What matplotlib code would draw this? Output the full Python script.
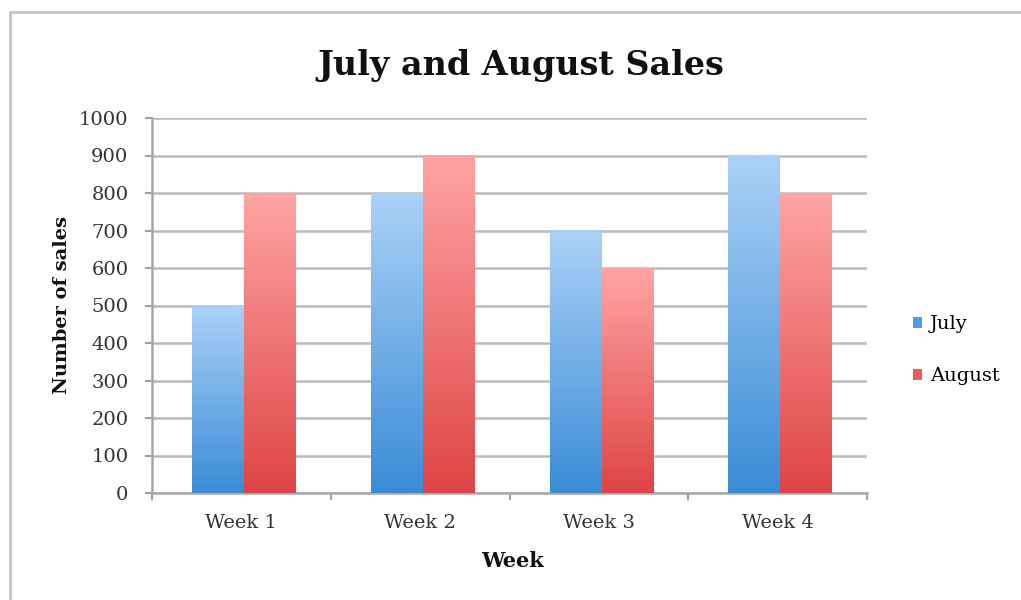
import numpy as np
import matplotlib
matplotlib.use("Agg")
import matplotlib.pyplot as plt
from matplotlib.colors import LinearSegmentedColormap
from matplotlib.patches import Rectangle, Patch

categories = ["Week 1", "Week 2", "Week 3", "Week 4"]
july = [500, 800, 700, 900]
august = [800, 900, 600, 800]
series_names = ["July", "August"]
yticks = list(range(0, 1001, 100))

plt.rcParams['font.family'] = ['DejaVu Serif']

fig = plt.figure(figsize=(10.21, 6.0), dpi=100)
ax = fig.add_axes([152/1021, 1-493/600, (867-152)/1021, (493-118)/600])

# figure border
fig.patches.append(Rectangle((10/1021, -0.01), 1.0, 1-12/600+0.01, transform=fig.transFigure,
                             fill=False, edgecolor='#c4c4c4', linewidth=2, zorder=0))

x = np.arange(len(categories))
w = 0.29
off = 0.015
cmap_j = LinearSegmentedColormap.from_list('j', ['#3a8cd6', '#abd1f7'])
cmap_a = LinearSegmentedColormap.from_list('a', ['#de4445', '#ffa4a4'])

grad = np.linspace(0, 1, 256).reshape(-1, 1)
bars_j = ax.bar(x - w/2 + off, july, w, color='none', edgecolor='none', zorder=3)
bars_a = ax.bar(x + w/2 + off, august, w, color='none', edgecolor='none', zorder=3)
for bars, cmap in ((bars_j, cmap_j), (bars_a, cmap_a)):
    for b in bars:
        x0, y0 = b.get_x(), b.get_y()
        ax.imshow(grad, extent=[x0, x0 + b.get_width(), y0, y0 + b.get_height()],
                  origin='lower', aspect='auto', cmap=cmap, zorder=3)

ax.set_xlim(-0.5, 3.5)
ax.set_ylim(0, 1000)
ax.set_yticks(yticks)
ax.set_yticklabels([str(v) for v in yticks], fontsize=14, color='#333333')
ax.set_xticks(x)
ax.set_xticklabels(categories, fontsize=14, color='#333333')
ax.set_xticks(np.arange(-0.5, 4.0, 1.0), minor=True)
ax.tick_params(axis='x', which='major', length=0, pad=15)
ax.tick_params(axis='x', which='minor', length=5, width=1.5, color='#a0a0a0', direction='out')
ax.tick_params(axis='y', length=5, width=1.5, color='#a0a0a0', pad=12)

ax.yaxis.grid(True, color='#bababa', linewidth=1.8, zorder=1)
ax.set_axisbelow(True)
for s in ['top', 'right']:
    ax.spines[s].set_visible(False)
for s in ['left', 'bottom']:
    ax.spines[s].set_color('#a8a8a8')
    ax.spines[s].set_linewidth(1.8)

fig.text(521/1021, 1-65/600, "July and August Sales", ha='center', va='center',
         fontsize=24, fontweight='bold', color='#111111')
fig.text(62/1021, 1-305/600, "Number of sales", ha='center', va='center', rotation=90,
         fontsize=14, fontweight='bold', color='#111111')
fig.text(512/1021, 1-561/600, "Week", ha='center', va='center',
         fontsize=15, fontweight='bold', color='#111111')

handles = [Patch(facecolor='#4d9ce2', edgecolor='none'), Patch(facecolor='#e85e5e', edgecolor='none')]
fig.legend(handles, series_names, loc='center left', bbox_to_anchor=(895/1021, 1-350/600),
           frameon=False, fontsize=14, handlelength=0.5, handleheight=0.5,
           handletextpad=0.4, labelspacing=1.75)

fig.savefig("out.png", dpi=100)
